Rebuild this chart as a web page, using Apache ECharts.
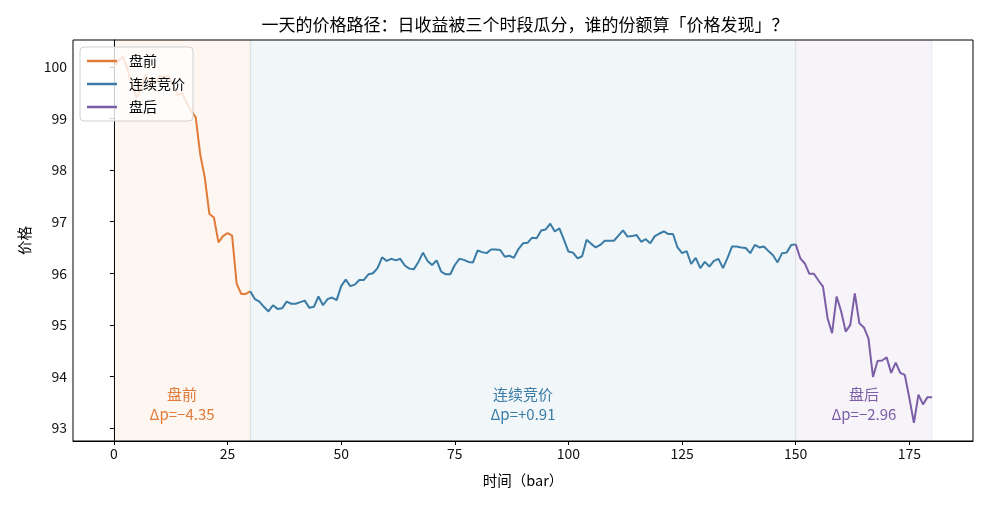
<!DOCTYPE html>
<html>
<head>
<meta charset="utf-8">
<title>一天的价格路径</title>
<script src="https://cdn.jsdelivr.net/npm/echarts@6/dist/echarts.min.js"></script>
<style>
  html, body { margin: 0; padding: 0; background: #fff; }
  #main { width: 990px; height: 505px; }
</style>
</head>
<body>
<div id="main"></div>
<script>
// 三个时段的价格（每个 bar 一个点），起点下标见 *Start
var preStart = 0;
var prePrice = [100.0, 100.12, 100.2, 99.95, 99.65, 99.4, 99.6, 99.85, 99.65, 99.7,
  99.82, 99.8, 99.83, 99.65, 99.45, 99.5, 99.3, 99.15, 99.02, 98.3,
  97.85, 97.15, 97.08, 96.6, 96.72, 96.78, 96.73, 95.8, 95.6, 95.6, 95.65];
var contStart = 30;
var contPrice = [95.65, 95.5, 95.45, 95.35, 95.26, 95.38, 95.31, 95.32, 95.45, 95.41,
  95.41, 95.44, 95.47, 95.33, 95.35, 95.55, 95.38, 95.5, 95.53, 95.48,
  95.75, 95.88, 95.75, 95.78, 95.87, 95.87, 95.98, 96.0, 96.1, 96.31,
  96.24, 96.28, 96.25, 96.28, 96.15, 96.09, 96.08, 96.22, 96.4, 96.24,
  96.16, 96.25, 96.03, 95.98, 95.98, 96.16, 96.28, 96.26, 96.22, 96.21,
  96.44, 96.41, 96.39, 96.46, 96.46, 96.45, 96.32, 96.34, 96.3, 96.47,
  96.58, 96.59, 96.69, 96.68, 96.83, 96.85, 96.96, 96.81, 96.87, 96.65,
  96.42, 96.4, 96.29, 96.33, 96.65, 96.57, 96.5, 96.55, 96.63, 96.63,
  96.63, 96.73, 96.83, 96.71, 96.72, 96.74, 96.61, 96.66, 96.58, 96.72,
  96.77, 96.81, 96.76, 96.76, 96.5, 96.39, 96.43, 96.18, 96.3, 96.1,
  96.22, 96.13, 96.24, 96.28, 96.1, 96.3, 96.52, 96.52, 96.5, 96.49,
  96.39, 96.55, 96.5, 96.52, 96.43, 96.35, 96.21, 96.39, 96.4, 96.55, 96.56];
var postStart = 150;
var postPrice = [96.56, 96.29, 96.19, 95.99, 95.99, 95.86, 95.74, 95.13, 94.84, 95.55,
  95.26, 94.87, 95.0, 95.61, 95.03, 94.95, 94.74, 93.99, 94.3, 94.31,
  94.37, 94.07, 94.27, 94.07, 94.03, 93.58, 93.1, 93.65, 93.46, 93.6, 93.6];

var sessionNames = ['盘前', '连续竞价', '盘后'];
var sessionRanges = [[0, 30], [30, 150], [150, 180]];
var sessionDelta = ['Δp=−4.35', 'Δp=+0.91', 'Δp=−2.96'];
var xTicks = [0, 25, 50, 75, 100, 125, 150, 175];
var yTicks = [93, 94, 95, 96, 97, 98, 99, 100];

var colors = ['#e07b39', '#3a7ca5', '#7b5ea7'];
var areaColors = ['rgba(224,123,57,0.07)', 'rgba(58,124,165,0.07)', 'rgba(123,94,167,0.07)'];
var FONT = '"Noto Sans CJK SC", "DejaVu Sans", sans-serif';

function toPairs(start, arr) {
  var out = [];
  for (var i = 0; i < arr.length; i++) out.push([start + i, arr[i]]);
  return out;
}
var segData = [toPairs(preStart, prePrice), toPairs(contStart, contPrice), toPairs(postStart, postPrice)];

var series = [];
for (var k = 0; k < 3; k++) {
  var r = sessionRanges[k];
  var mid = (r[0] + r[1]) / 2;
  series.push({
    name: sessionNames[k],
    type: 'line',
    data: segData[k],
    showSymbol: false,
    symbol: 'none',
    lineStyle: { color: colors[k], width: 2 },
    itemStyle: { color: colors[k] },
    z: 3,
    markArea: {
      silent: true,
      itemStyle: { color: areaColors[k], borderColor: 'rgba(0,0,0,0.06)', borderWidth: 1 },
      data: [[{ xAxis: r[0] }, { xAxis: r[1] }]]
    },
    markPoint: {
      silent: true,
      symbol: 'circle',
      symbolSize: 0,
      label: {
        show: true,
        position: 'inside',
        formatter: sessionNames[k] + '\n' + sessionDelta[k],
        color: colors[k],
        fontSize: 15,
        lineHeight: 20,
        fontFamily: FONT
      },
      data: [{ coord: [mid, 93.46] }]
    }
  });
}

var myChart = echarts.init(document.getElementById('main'));
var option = {
  animation: false,
  textStyle: { fontFamily: FONT },
  title: {
    text: '一天的价格路径：日收益被三个时段瓜分，谁的份额算「价格发现」？',
    left: 520,
    textAlign: 'center',
    top: 11,
    textStyle: { fontSize: 17, fontWeight: 'normal', color: '#000', fontFamily: FONT }
  },
  legend: {
    orient: 'vertical',
    left: 80,
    top: 47,
    data: sessionNames,
    icon: 'rect',
    itemWidth: 30,
    itemHeight: 2.5,
    itemGap: 9,
    padding: [7, 8, 7, 7],
    backgroundColor: 'rgba(255,255,255,0.8)',
    borderColor: '#d0d0d0',
    borderWidth: 1,
    borderRadius: 4,
    textStyle: { fontSize: 14, color: '#000', fontFamily: FONT, padding: [0, 0, 0, 7] }
  },
  grid: {
    left: 73, right: 17, top: 40, bottom: 64,
    show: true, borderColor: '#000', borderWidth: 1, backgroundColor: 'transparent'
  },
  xAxis: {
    type: 'value',
    min: -9,
    max: 189,
    name: '时间（bar）',
    nameLocation: 'middle',
    nameGap: 32,
    nameTextStyle: { fontSize: 14.5, color: '#000', fontFamily: FONT },
    axisLine: { show: true, lineStyle: { color: '#000' } },
    axisTick: { show: true, inside: false, length: 4, customValues: xTicks, lineStyle: { color: '#000' } },
    axisLabel: { customValues: xTicks, fontSize: 14, color: '#111', margin: 6 },
    splitLine: { show: false }
  },
  yAxis: {
    type: 'value',
    min: 92.75,
    max: 100.52,
    name: '价格',
    nameLocation: 'middle',
    nameGap: 41,
    nameRotate: 90,
    nameTextStyle: { fontSize: 14.5, color: '#000', fontFamily: FONT },
    axisLine: { show: true, lineStyle: { color: '#000' } },
    axisTick: { show: true, inside: false, length: 4, customValues: yTicks, lineStyle: { color: '#000' } },
    axisLabel: { customValues: yTicks, fontSize: 14, color: '#111', margin: 6 },
    splitLine: { show: false }
  },
  series: series
};
myChart.setOption(option);
</script>
</body>
</html>
